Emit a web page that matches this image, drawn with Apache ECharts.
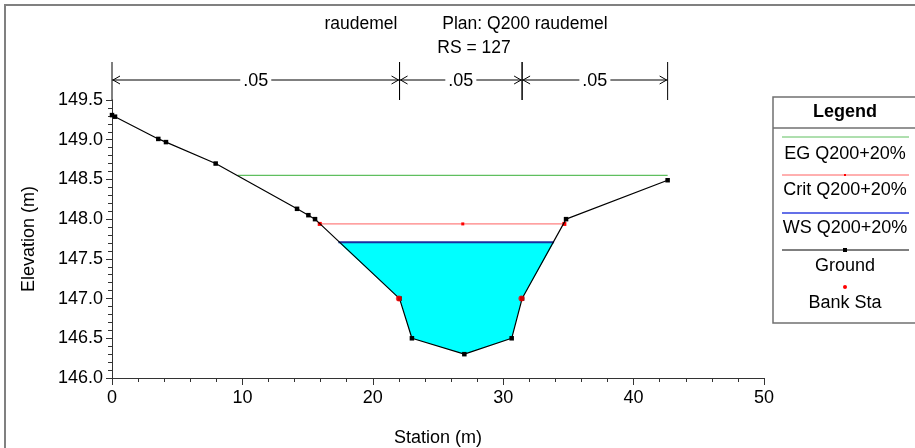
<!DOCTYPE html>
<html>
<head>
<meta charset="utf-8">
<script src="https://cdn.jsdelivr.net/npm/echarts@6/dist/echarts.min.js"></script>
<style>
  html, body { margin: 0; padding: 0; background: #fff; }
  #chart { width: 915px; height: 448px; }
</style>
</head>
<body>
<div id="chart"></div>
<script>
// Cross section RS 127 – ground profile, water levels and Manning's n
const groundStation = [0, 0.23, 3.55, 4.14, 7.95, 14.19, 15.06, 15.57, 22.05, 23.0, 27.02, 30.65, 31.45, 34.82, 42.61];
const groundElev = [149.31, 149.29, 149.01, 148.97, 148.70, 148.13, 148.05, 148.0, 147.0, 146.5, 146.3, 146.5, 147.0, 148.0, 148.49];

const bankStation = [22.0, 31.4];
const bankElev = [147.0, 147.0];

// Energy grade line
const egElev = 148.55;
const egStation = [9.64, 42.61];

// Critical water surface (with center marker)
const critElev = 147.94;
const critStation = [15.93, 26.9, 34.69];

// Water surface and where it meets the banks
const wsElev = 147.71;
const wsStation = [17.36, 33.9];

// Manning's n regions
const nBounds = [0, 22.05, 31.45, 42.61];
const nValues = ['.05', '.05', '.05'];

const xTicks = { min: 0, max: 50, interval: 10 };
const yTicks = { min: 146.0, max: 149.5, interval: 0.5 };

const FONT = 'Liberation Sans, Arial, sans-serif';
const FS = 18;
const chart = echarts.init(document.getElementById('chart'));

// Water polygon: water surface ends plus the ground points below it
const waterPoly = [[wsStation[0], wsElev]];
groundStation.forEach((s, i) => {
  if (s > wsStation[0] && s < wsStation[1]) waterPoly.push([s, groundElev[i]]);
});
waterPoly.push([wsStation[1], wsElev]);

const groundData = groundStation.map((s, i) => [s, groundElev[i]]);
const nData = nValues.map((v, i) => [nBounds[i], nBounds[i + 1], i]);

const axisCol = '#333';
const egColor = '#5fbf5f';

function legendText(text, y, bold) {
  return { type: 'text', x: 845, y: y, z: 11,
    style: { text: text, fontFamily: FONT, fontSize: FS, fontWeight: bold ? 'bold' : 'normal',
      fill: '#000', align: 'center', verticalAlign: 'middle' } };
}
function legendLine(y, color, width) {
  return { type: 'line', z: 11, shape: { x1: 782, y1: y, x2: 909, y2: y },
    style: { stroke: color, lineWidth: width } };
}
const titleStyle = { fontFamily: FONT, fontSize: 17.5, fontWeight: 'normal', color: '#000' };

const option = {
  animation: false,
  backgroundColor: '#fff',
  title: [
    { text: 'raudemel', left: 356, top: 10, textAlign: 'center', textStyle: titleStyle },
    { text: 'Plan: Q200 raudemel', left: 520, top: 10, textAlign: 'center', textStyle: titleStyle },
    { text: 'RS = 127', left: 469, top: 34, textAlign: 'center', textStyle: titleStyle }
  ],
  grid: { left: 112, top: 100, width: 652, height: 278, containLabel: false, outerBoundsMode: 'none' },
  xAxis: {
    type: 'value', min: xTicks.min, max: xTicks.max, interval: xTicks.interval,
    name: 'Station (m)', nameLocation: 'middle', nameGap: 51,
    nameTextStyle: { fontFamily: FONT, fontSize: FS, color: '#000' },
    axisLine: { onZero: false, lineStyle: { color: axisCol, width: 1 } },
    axisTick: { length: 7, lineStyle: { color: axisCol } },
    minorTick: { show: true, splitNumber: 5, length: 4, lineStyle: { color: axisCol } },
    splitLine: { show: false },
    axisLabel: { fontFamily: FONT, fontSize: FS, color: '#000', margin: 11 }
  },
  yAxis: {
    type: 'value', min: yTicks.min, max: yTicks.max, interval: yTicks.interval,
    name: 'Elevation (m)', nameLocation: 'middle', nameGap: 74,
    nameTextStyle: { fontFamily: FONT, fontSize: FS, color: '#000' },
    axisLine: { show: true, onZero: false, lineStyle: { color: axisCol, width: 1 } },
    axisTick: { show: true, length: 6, lineStyle: { color: axisCol } },
    minorTick: { show: true, splitNumber: 5, length: 4, lineStyle: { color: axisCol } },
    splitLine: { show: false },
    axisLabel: { fontFamily: FONT, fontSize: FS, color: '#000', margin: 9,
      formatter: v => v.toFixed(1) }
  },
  series: [
    {
      name: 'WS fill', type: 'custom', z: 1,
      data: [0],
      renderItem: (params, api) => ({
        type: 'polygon',
        shape: { points: waterPoly.map(p => api.coord(p)) },
        style: { fill: '#00ffff', stroke: null }
      })
    },
    {
      name: 'EG Q200+20%', type: 'line', z: 3,
      data: egStation.map(s => [s, egElev]),
      symbol: 'none', lineStyle: { color: egColor, width: 1.2 }
    },
    {
      name: 'Crit Q200+20%', type: 'line', z: 3,
      data: critStation.map(s => [s, critElev]),
      symbol: 'rect', symbolSize: (v, p) => (p.dataIndex === 1 ? 3 : 4),
      itemStyle: { color: '#ff0000' },
      lineStyle: { color: '#ff6060', width: 1 }
    },
    {
      name: 'WS Q200+20%', type: 'line', z: 3,
      data: wsStation.map(s => [s, wsElev]),
      symbol: 'none', lineStyle: { color: '#1a2fa0', width: 2 }
    },
    {
      name: 'Ground', type: 'line', z: 4,
      data: groundData,
      symbol: 'rect', symbolSize: 4.5,
      itemStyle: { color: '#000' },
      lineStyle: { color: '#000', width: 1.2 }
    },
    {
      name: 'Bank Sta', type: 'scatter', z: 5,
      data: bankStation.map((s, i) => [s, bankElev[i]]),
      symbol: 'circle', symbolSize: 6,
      itemStyle: { color: '#ff0000' }
    },
    {
      name: 'n values', type: 'custom', z: 6, clip: false,
      data: nData,
      renderItem: (params, api) => {
        const a = api.coord([api.value(0), yTicks.max]);
        const b = api.coord([api.value(1), yTicks.max]);
        const yTop = a[1] - 38, yArrow = a[1] - 20;
        const mid = (a[0] + b[0]) / 2;
        const children = [
          { type: 'line', shape: { x1: a[0], y1: yTop, x2: a[0], y2: a[1] },
            style: { stroke: '#000', lineWidth: 1 } },
          { type: 'line', shape: { x1: b[0], y1: yTop, x2: b[0], y2: a[1] },
            style: { stroke: '#000', lineWidth: 1 } },
          { type: 'line', shape: { x1: a[0], y1: yArrow, x2: b[0], y2: yArrow },
            style: { stroke: '#000', lineWidth: 1 } },
          { type: 'polyline', shape: { points: [[a[0] + 8, yArrow - 4], [a[0] + 1, yArrow], [a[0] + 8, yArrow + 4]] },
            style: { stroke: '#000', fill: null, lineWidth: 1 } },
          { type: 'polyline', shape: { points: [[b[0] - 8, yArrow - 4], [b[0] - 1, yArrow], [b[0] - 8, yArrow + 4]] },
            style: { stroke: '#000', fill: null, lineWidth: 1 } },
          { type: 'text', x: mid, y: yArrow + 1,
            style: { text: nValues[api.value(2)], fontFamily: FONT, fontSize: FS, fill: '#000',
              align: 'center', verticalAlign: 'middle',
              backgroundColor: '#fff', padding: [0, 3, 0, 3] } }
        ];
        return { type: 'group', children };
      }
    }
  ],
  graphic: [
    // outer frame
    { type: 'rect', shape: { x: 5, y: 5, width: 930, height: 460 }, z: 0,
      style: { fill: null, stroke: '#808080', lineWidth: 2 } },
    // legend box
    { type: 'rect', z: 10, shape: { x: 773, y: 97, width: 160, height: 226 },
      style: { fill: '#fff', stroke: '#707070', lineWidth: 1.5 } },
    { type: 'line', z: 11, shape: { x1: 773, y1: 128, x2: 915, y2: 128 },
      style: { stroke: '#707070', lineWidth: 1.5 } },
    legendText('Legend', 112, true),
    legendLine(137, egColor, 1),
    legendText('EG Q200+20%', 154),
    legendLine(175, '#ff6060', 1),
    { type: 'rect', z: 12, shape: { x: 844, y: 174, width: 2, height: 2 }, style: { fill: '#ff0000' } },
    legendText('Crit Q200+20%', 190),
    legendLine(213, '#3040e0', 1.5),
    legendText('WS Q200+20%', 228),
    legendLine(250, '#000', 1),
    { type: 'rect', z: 12, shape: { x: 843, y: 248, width: 4, height: 4 }, style: { fill: '#000' } },
    legendText('Ground', 266),
    { type: 'circle', z: 12, shape: { cx: 845, cy: 287, r: 2 }, style: { fill: '#ff0000' } },
    legendText('Bank Sta', 303)
  ]
};

chart.setOption(option);
</script>
</body>
</html>
